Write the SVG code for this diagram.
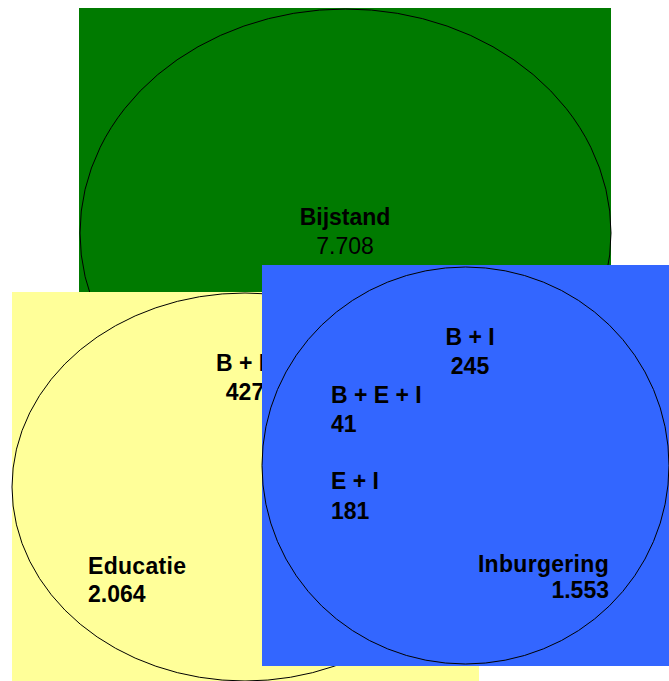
<svg xmlns="http://www.w3.org/2000/svg" width="669" height="681" viewBox="0 0 669 681">
<style>
.ell{fill:none;stroke:#000;stroke-width:1}
.t{font-family:"Liberation Sans",Arial,sans-serif;font-size:23px;fill:#000}
.b{font-weight:bold}
</style>
<rect width="669" height="681" fill="#fff"/>
<g id="bijstand">
<rect x="79" y="8" width="532" height="480" fill="#007A00"/>
<ellipse class="ell" cx="345.5" cy="233" rx="265.5" ry="224"/>
<text class="t b" x="345" y="225" text-anchor="middle">Bijstand</text>
<text class="t" x="345" y="254" text-anchor="middle">7.708</text>
</g>
<g id="educatie">
<rect x="12" y="292" width="467" height="389" fill="#FFFF99"/>
<ellipse class="ell" cx="245" cy="487" rx="233" ry="194"/>
<text class="t b" x="245" y="371" text-anchor="middle">B + E</text>
<text class="t b" x="245" y="400" text-anchor="middle">427</text>
<text class="t b" x="88" y="574" letter-spacing="0.3">Educatie</text>
<text class="t b" x="88" y="602">2.064</text>
</g>
<g id="inburgering">
<rect x="262" y="265" width="407" height="401" fill="#3366FF"/>
<ellipse class="ell" cx="465.5" cy="465.5" rx="203.5" ry="198.5"/>
<text class="t b" x="470" y="345" text-anchor="middle">B + I</text>
<text class="t b" x="470" y="374" text-anchor="middle">245</text>
<text class="t b" x="331" y="403">B + E + I</text>
<text class="t b" x="331" y="432">41</text>
<text class="t b" x="331" y="489">E + I</text>
<text class="t b" x="331" y="519">181</text>
<text class="t b" x="609" y="572" text-anchor="end" letter-spacing="0.3">Inburgering</text>
<text class="t b" x="609" y="598" text-anchor="end">1.553</text>
</g>
<g id="connectors"/>
</svg>
